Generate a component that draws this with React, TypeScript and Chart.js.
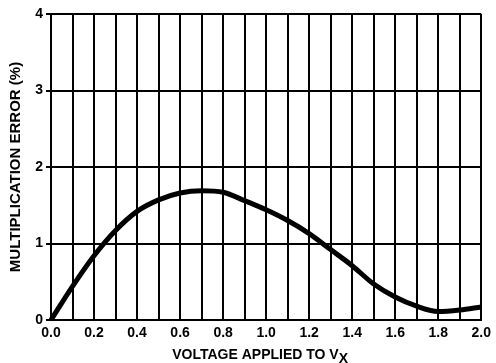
import React, { useEffect, useRef } from "react";
import { Chart, registerables } from "chart.js";

Chart.register(...registerables);

const xValues = [0, 0.1, 0.2, 0.3, 0.4, 0.5, 0.6, 0.7, 0.8, 0.9, 1.0, 1.1, 1.2, 1.3, 1.4, 1.5, 1.6, 1.7, 1.8, 1.9, 2.0];
const errorValues = [0, 0.44, 0.84, 1.17, 1.42, 1.57, 1.66, 1.69, 1.67, 1.56, 1.44, 1.3, 1.13, 0.92, 0.71, 0.47, 0.3, 0.18, 0.11, 0.13, 0.17];
const xGridValues = [0, 0.1, 0.2, 0.3, 0.4, 0.5, 0.6, 0.7, 0.8, 0.9, 1.0, 1.1, 1.2, 1.3, 1.4, 1.5, 1.6, 1.7, 1.8, 1.9, 2.0];
const xTickLabels = ["0.0", "0.2", "0.4", "0.6", "0.8", "1.0", "1.2", "1.4", "1.6", "1.8", "2.0"];
const yTickValues = [0, 1, 2, 3, 4];
const yTickLabels = ["0", "1", "2", "3", "4"];
const xTitleMain = "VOLTAGE APPLIED TO V";
const xTitleSub = "X";
const yTitle = "MULTIPLICATION ERROR (%)";

const FONT = "'Liberation Sans', Arial, Helvetica, sans-serif";

const titlePlugin = {
  id: "axisTitles",
  afterDraw(chart: any) {
    const ctx = chart.ctx;
    const area = chart.chartArea;
    ctx.save();
    ctx.fillStyle = "#000";
    ctx.font = `bold 14px ${FONT}`;
    ctx.textBaseline = "alphabetic";
    ctx.textAlign = "left";
    const w1 = ctx.measureText(xTitleMain).width;
    const w2 = ctx.measureText(xTitleSub).width;
    const cx = (area.left + area.right) / 2 - 6;
    const sx = cx - (w1 + w2) / 2;
    ctx.fillText(xTitleMain, sx, 359);
    ctx.fillText(xTitleSub, sx + w1, 363);

    ctx.font = `bold 15px ${FONT}`;
    ctx.translate(15.5, (area.top + area.bottom) / 2);
    ctx.rotate(-Math.PI / 2);
    ctx.textAlign = "center";
    ctx.textBaseline = "middle";
    ctx.fillText(yTitle, 0, 0);
    ctx.restore();
  },
};

export default function App() {
  const ref = useRef<HTMLCanvasElement>(null);
  useEffect(() => {
    if (!ref.current) return;
    const chart = new Chart(ref.current, {
      type: "line",
      data: {
        datasets: [
          {
            data: xValues.map((x, i) => ({ x, y: errorValues[i] })),
            borderColor: "#000",
            borderWidth: 5,
            pointRadius: 0,
            cubicInterpolationMode: "monotone",
            fill: false,
            clip: 4,
          },
        ],
      },
      options: {
        responsive: false,
        animation: false,
        layout: { padding: { left: 0, top: 14, right: 13, bottom: 0 } },
        plugins: { legend: { display: false }, tooltip: { enabled: false } },
        scales: {
          x: {
            type: "linear",
            min: 0,
            max: 2,
            afterBuildTicks(scale: any) {
              scale.ticks = xGridValues.map((v) => ({ value: v }));
            },
            afterFit(scale: any) {
              scale.height = 43;
            },
            grid: { color: "#000", lineWidth: 2, drawTicks: false },
            border: { color: "#000", width: 2 },
            ticks: {
              autoSkip: false,
              maxRotation: 0,
              padding: 5,
              color: "#000",
              font: { family: FONT, size: 14, weight: "bold" },
              callback: (_v: any, i: number) => (i % 2 === 0 ? xTickLabels[i / 2] : ""),
            },
          },
          y: {
            type: "linear",
            min: 0,
            max: 4,
            afterBuildTicks(scale: any) {
              scale.ticks = yTickValues.map((v) => ({ value: v }));
            },
            afterFit(scale: any) {
              scale.width = 51;
            },
            grid: { color: "#000", lineWidth: 2, tickLength: 5 },
            border: { color: "#000", width: 2 },
            ticks: {
              padding: 3,
              color: "#000",
              font: { family: FONT, size: 14, weight: "bold" },
              callback: (_v: any, i: number) => yTickLabels[i],
            },
          },
        },
      },
      plugins: [titlePlugin],
    } as any);
    return () => chart.destroy();
  }, []);
  return (
    <div style={{ position: "absolute", left: 0, top: 0, width: 496, height: 363, background: "#fff" }}>
      <canvas ref={ref} width={496} height={363} style={{ width: 496, height: 363, display: "block" }} />
    </div>
  );
}
